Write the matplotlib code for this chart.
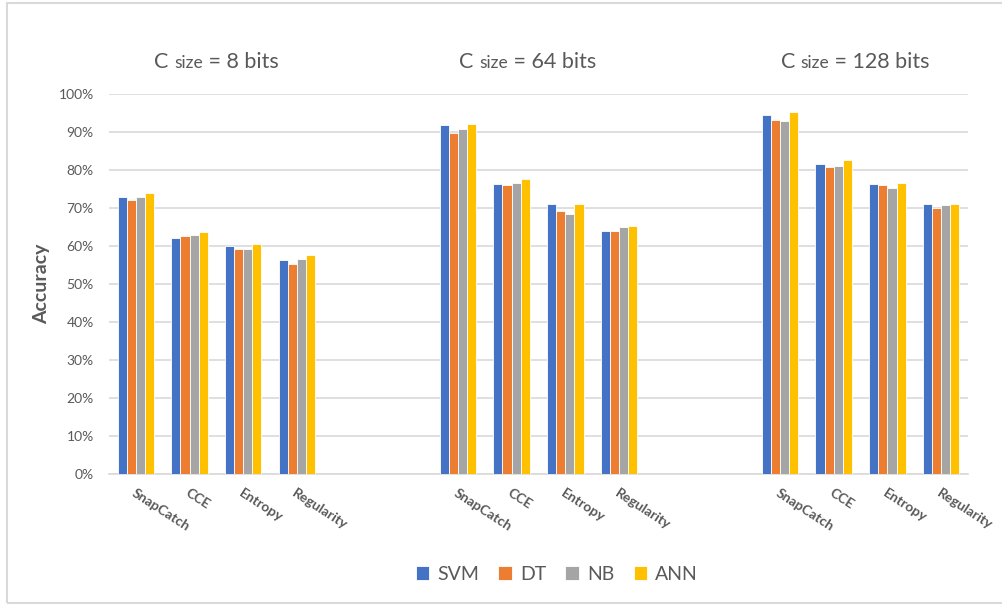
import numpy as np
import matplotlib.pyplot as plt
from matplotlib.patches import Rectangle
from matplotlib.offsetbox import TextArea, HPacker, AnnotationBbox

plt.rcParams['font.family'] = ['Lato', 'DejaVu Sans']

# data (accuracy in %) - groups: C size 8, 64, 128 bits
metrics = ['SnapCatch', 'CCE', 'Entropy', 'Regularity']
group_titles = ['8 bits', '64 bits', '128 bits']
series = ['SVM', 'DT', 'NB', 'ANN']
svm = [72.9, 62.2, 60.1, 56.3, 91.8, 76.3, 71.1, 63.9, 94.6, 81.5, 76.2, 71.1]
dt = [72.2, 62.5, 59.1, 55.3, 89.7, 76.0, 69.1, 63.9, 93.2, 80.8, 76.0, 70.1]
nb = [72.9, 62.8, 59.1, 56.7, 90.7, 76.7, 68.3, 64.9, 92.8, 81.1, 75.3, 70.8]
ann = [73.9, 63.6, 60.4, 57.6, 92.1, 77.6, 71.1, 65.3, 95.2, 82.6, 76.7, 71.1]

colors = ['#4472C4', '#ED7D31', '#A5A5A5', '#FFC000']
txt_gray = '#595959'
grid_gray = '#D9D9D9'

# 4 categories + 2 empty slots per group (last group without trailing gap)
slots_per_group = 6
positions = []
for g in range(len(group_titles)):
    for m in range(len(metrics)):
        positions.append(g * slots_per_group + m)
positions = np.array(positions)

fig = plt.figure(figsize=(10.03, 6.04), dpi=100)
ax = fig.add_axes([0.1087, 0.2152, 0.8563, 0.6292])

bw = 0.17
for i, (name, vals) in enumerate(zip(series, [svm, dt, nb, ann])):
    ax.bar(positions + (i - 1.5) * bw, np.array(vals) / 100, width=bw,
           color=colors[i], edgecolor='white', linewidth=0.6, label=name,
           zorder=3)

ax.set_xlim(-0.5, 15.5)
ax.set_ylim(0, 1)
ax.set_yticks(np.arange(0, 1.01, 0.1))
ax.set_yticklabels(['%d%%' % v for v in range(0, 101, 10)],
                   fontsize=10, color=txt_gray)
ax.yaxis.grid(True, color=grid_gray, linewidth=1.2, zorder=0)
ax.tick_params(axis='y', length=0, pad=11)
ax.tick_params(axis='x', length=0)
ax.set_xticks([])
for s in ['top', 'right', 'left']:
    ax.spines[s].set_visible(False)
ax.spines['bottom'].set_color(grid_gray)
ax.spines['bottom'].set_linewidth(1.2)

ax.set_ylabel('Accuracy', fontsize=14, fontweight='bold', color=txt_gray,
              labelpad=6)

# rotated category labels
for k, p in enumerate(positions):
    ax.annotate(metrics[k % 4], xy=(p, 0), xycoords='data',
                xytext=(0, -9), textcoords='offset points',
                rotation=-33, rotation_mode='anchor', ha='left', va='top',
                fontsize=10, fontweight='bold', color=txt_gray)

# group titles "C size = ..."
title_x = [1.5, 7.3, 13.4]
for g, t in enumerate(group_titles):
    parts = [TextArea('C ', textprops=dict(fontsize=15.5, color=txt_gray)),
             TextArea('size', textprops=dict(fontsize=12.5, color=txt_gray)),
             TextArea(' = ' + t, textprops=dict(fontsize=15.5, color=txt_gray))]
    box = HPacker(children=parts, align='baseline', pad=0, sep=0)
    ab = AnnotationBbox(box, (title_x[g], 1.0), xycoords='data',
                        xybox=(0, 23), boxcoords='offset points',
                        frameon=False, annotation_clip=False)
    ax.add_artist(ab)

leg = fig.legend(loc='center', bbox_to_anchor=(0.555, 0.049), ncol=4,
                 frameon=False, fontsize=14, handlelength=0.7,
                 handleheight=0.7, handletextpad=0.4, columnspacing=1.0)
for t in leg.get_texts():
    t.set_color(txt_gray)

# chart border
fig.patches.append(Rectangle((7 / 1003, 1 / 604), 1.0, 600 / 604,
                             transform=fig.transFigure, fill=False,
                             edgecolor=grid_gray, linewidth=1.5))

fig.savefig('out.png', dpi=100)
